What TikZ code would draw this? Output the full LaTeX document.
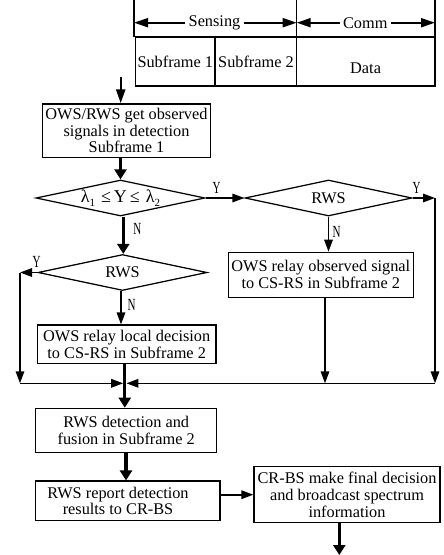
\documentclass[tikz,border=0pt]{standalone}
\usepackage{fontspec}
\setmainfont{Liberation Serif}
\usetikzlibrary{arrows.meta,shapes.geometric}
\begin{document}
\begin{tikzpicture}[x=1pt,y=-1pt,
  every node/.style={font=\fontsize{16.3}{16.8}\selectfont},
  box/.style={draw,line width=1.25pt,rectangle,inner sep=0pt,align=center},
  dia/.style={draw,line width=1.25pt,diamond,aspect=4.7,inner sep=0pt},
  tnarr/.style={line width=1.6pt,-{Triangle[length=12pt,width=8.5pt]}},
  tharr/.style={line width=3.2pt,-{Triangle[length=10pt,width=12pt]}},
  thline/.style={line width=3.2pt},
  tnline/.style={line width=1.6pt},
  tabline/.style={line width=1.4pt},
  toparr/.style={line width=2pt,-{Triangle[length=14pt,width=9pt]}},
  yn/.style={font=\fontsize{17}{17}\selectfont,inner sep=0pt},
]
\useasboundingbox (0,0) rectangle (444,555);

% ---- frame table at top ----
\coordinate (vA) at (134,0);
\coordinate (vB) at (296.7,0);
\coordinate (vC) at (435,0);
\draw[tabline] (vA) -- (134,37);
\draw[tabline] (vB) -- (296.7,86);
\draw[tabline] (vC) -- (435,86);
\draw[tabline] (135.5,37) rectangle (435,86);
\draw[tabline] (215,37) -- (215,86);
\node (sens) at (214.5,22.7) {Sensing};
\node (comm) at (365.3,22.7) {Comm};
\draw[toparr] (sens.west) -- (sens.west -| vA);
\draw[toparr] (sens.east) -- (sens.east -| vB);
\draw[toparr] (comm.west) -- (comm.west -| vB);
\draw[toparr] (comm.east) -- (comm.east -| vC);
\node (sf1) at (175.3,62) {Subframe 1};
\node (sf2) at (256,62) {Subframe 2};
\node (data) at (365.6,68) {Data};

% ---- flow chart ----
\coordinate (start) at (120.7,76.7);
\node[box,minimum width=168.4pt,minimum height=53.3pt] (b1) at (126.5,130.6)
  {OWS/RWS get observed\\signals in detection\\Subframe 1};
\node[dia,minimum width=169pt,minimum height=36pt] (d1) at (120.5,198)
  {\fontsize{18}{18}\selectfont λ\raisebox{-4pt}{\fontsize{11}{11}\selectfont 1}\,\,≤\,Y\,≤\,\,λ\raisebox{-4pt}{\fontsize{11}{11}\selectfont 2}};
\node[dia,minimum width=167pt,minimum height=36pt] (d2) at (328.5,198) {RWS};
\node[dia,minimum width=169pt,minimum height=36pt] (d3) at (122.5,272.5) {RWS};
\node[box,minimum width=185pt,minimum height=45pt] (obs) at (320.8,274.8)
  {OWS relay observed signal\\to CS-RS in Subframe 2};
\node[box,minimum width=178.7pt,minimum height=38.3pt] (loc) at (126.7,344.2)
  {OWS relay local decision\\to CS-RS in Subframe 2};
\node[box,minimum width=181pt,minimum height=44pt] (det) at (126.2,430.3)
  {RWS detection and\\fusion in Subframe 2};
\node[box,minimum width=184.3pt,minimum height=39.7pt] (rep) at (127.9,500.9) {};
\node[align=center,inner sep=0pt] (reptxt) at (118,500.9)
  {RWS report detection\\results to CR-BS};
\node[box,minimum width=186pt,minimum height=56pt] (crbs) at (347,494.7)
  {CR-BS make final decision\\and broadcast spectrum\\information};

\coordinate (cR1) at (435,198);
\coordinate (cR2) at (435,383.3);
\coordinate (cL1) at (20,272.5);
\coordinate (cL2) at (20,383.3);
\coordinate (mg) at (124.8,383.3);
\coordinate (mgL) at (123.2,383.3);
\coordinate (mgR) at (126.4,383.3);
\coordinate (fin) at (339.3,555);

\draw[toparr,line width=2.4pt] (start) -- (start |- b1.north);
\draw[tharr] (b1.south -| d1.north) -- (d1.north);
\draw[tnarr] (d1.east) -- (d2.west);
\draw[tnarr] (d2.east) -- (cR1);
\draw[tnarr] (cR1) -- (cR2);
\draw[tnarr] (d2.south) -- (d2.south |- obs.north);
\draw[tnarr] (obs.south -| 325,0) -- (mg -| 325,0);
\draw[tharr] (d1.south -| 123.3,0) -- (d3.north -| 123.3,0);
\draw[tnarr] (d3.west) -- (cL1);
\draw[tnarr] (cL1) -- (cL2);
\draw[tnarr] (cL2) -- (mgL);
\draw[tnarr] (cR2) -- (mgR);
\draw[tnarr] (d3.south -| 121,0) -- (loc.north -| 121,0);
\draw[thline] (loc.south -| mg) -- (mg);
\draw[tharr] (mg) -- (mg |- det.north);
\draw[tharr] (det.south -| 126,0) -- (rep.north -| 126,0);
\draw[tnarr] (rep.east |- crbs.west) -- (crbs.west);
\draw[tharr] (crbs.south -| fin) -- (fin);

% ---- Y / N labels ----
\node[yn] (y1) at (216.7,188) {\scalebox{0.65}[1]{Y}};
\node[yn] (y2) at (416.7,188) {\scalebox{0.65}[1]{Y}};
\node[yn] (y3) at (36.7,261.7) {\scalebox{0.65}[1]{Y}};
\node[yn] (n1) at (137.3,229) {\scalebox{0.65}[1]{N}};
\node[yn] (n2) at (336.7,231.7) {\scalebox{0.65}[1]{N}};
\node[yn] (n3) at (131.7,305) {\scalebox{0.65}[1]{N}};
\end{tikzpicture}
\end{document}
